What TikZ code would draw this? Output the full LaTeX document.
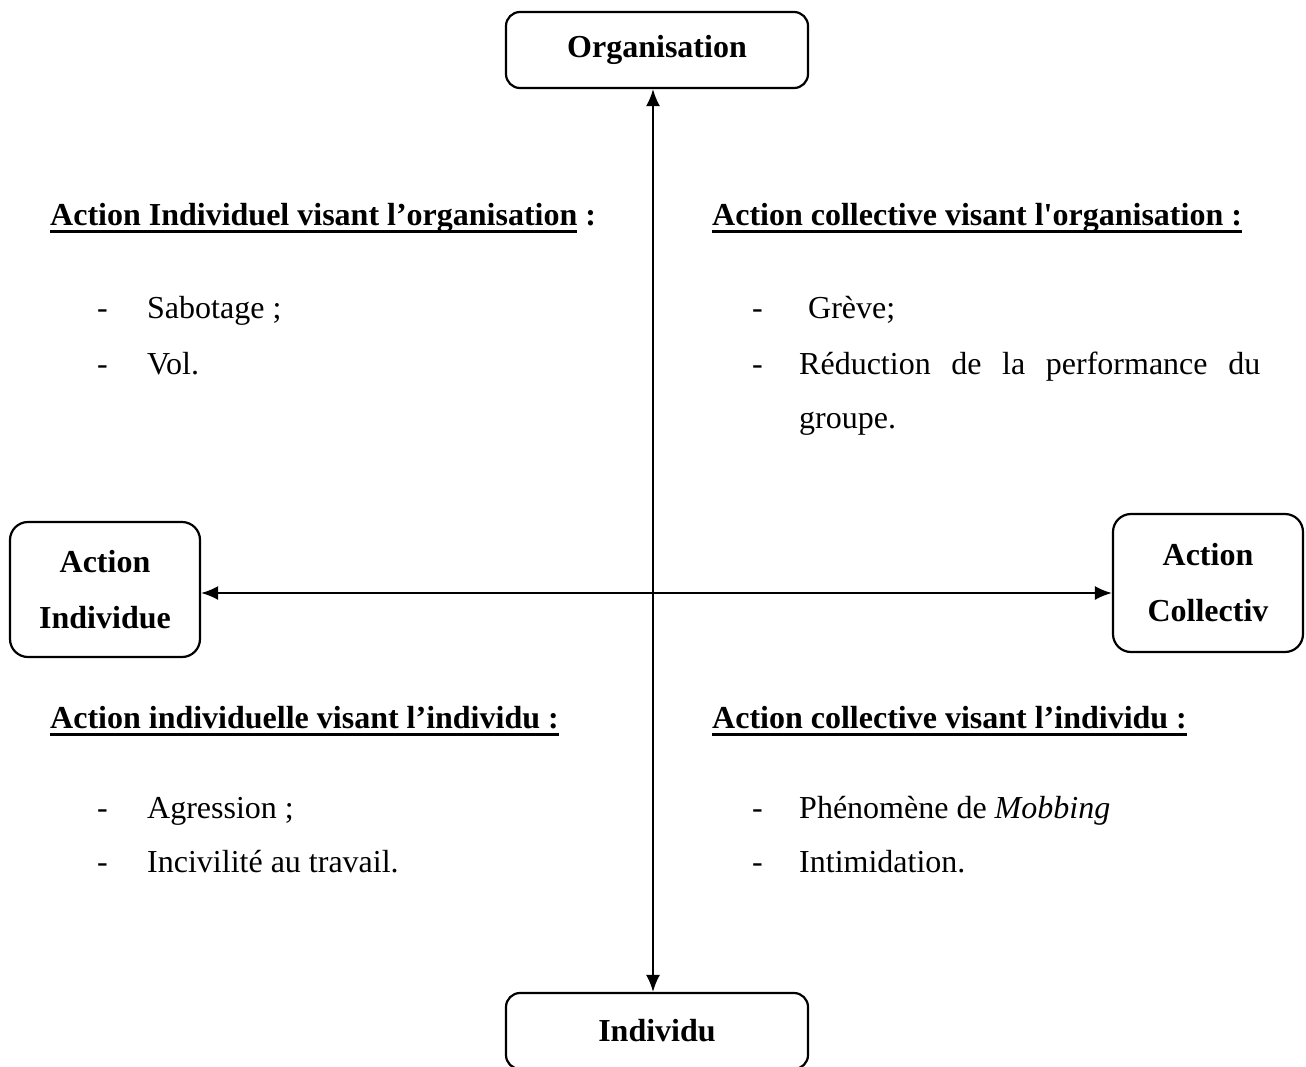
\documentclass[tikz,border=0pt]{standalone}
\usepackage{fontspec}
\setmainfont{Liberation Serif}
\usetikzlibrary{arrows.meta}
% thick underline under a piece of text
\newcommand\ulbar[1]{\setbox0\hbox{#1}\rlap{\rule[-8pt]{\wd0}{3.5pt}}\box0\relax}
\tikzset{
  box/.style={draw, line width=2.2pt, rounded corners=14pt, inner sep=0pt,
    font=\fontsize{32}{56}\selectfont\bfseries, align=center},
  smallbox/.style={box, rounded corners=18pt},
  head/.style={anchor=base west, inner sep=0pt, font=\fontsize{32}{38}\selectfont\bfseries},
  item/.style={anchor=base west, inner sep=0pt, font=\fontsize{32}{38}\selectfont},
  axis/.style={line width=2pt, {Latex[length=17pt,width=14pt]}-{Latex[length=17pt,width=14pt]}},
}
\begin{document}
\begin{tikzpicture}[x=1pt,y=-1pt]
\useasboundingbox (0,0) rectangle (1306,1066);

% the four poles
\node[box, minimum width=302pt, minimum height=76pt] (org) at (657,50) {Organisation};
\node[box, minimum width=302pt, minimum height=76pt] (ind) at (657,1031) {Individu};
\node[smallbox, minimum width=190pt, minimum height=135pt] (ai) at (105,589.5) {Action\\Individue};
\node[smallbox, minimum width=190pt, minimum height=138pt] (ac) at (1208,583) {Action\\Collectiv};

% crossing axes
\coordinate (o) at (653,593);
\draw[axis] (org.south -| o) -- (ind.north -| o);
\draw[axis] (ai.east |- o) -- (ac.west |- o);

% upper left quadrant
\node[head] (h1) at (50,225) {\ulbar{Action Individuel visant l’organisation} :};
\node[item] (d1) at (97,318) {-};
\node[item] (t1) at (147,318) {Sabotage ;};
\node[item] (d2) at (97,374) {-};
\node[item] (t2) at (147,374) {Vol.};

% upper right quadrant
\node[head] (h2) at (712,225) {\ulbar{Action collective visant l\textquotesingle organisation :}};
\node[item] (d3) at (752,318) {-};
\node[item] (t3) at (808,318) {Grève;};
\node[item] (d4) at (752,374) {-};
\node[item] (t4) at (799,374) {\hbox to 461pt{Réduction\hfill de\hfill la\hfill performance\hfill du}};
\node[item] (t5) at (799,428) {groupe.};

% lower left quadrant
\node[head] (h3) at (50,728) {\ulbar{Action individuelle visant l’individu :}};
\node[item] (d5) at (97,818) {-};
\node[item] (t6) at (147,818) {Agression ;};
\node[item] (d6) at (97,872) {-};
\node[item] (t7) at (147,872) {Incivilité au travail.};

% lower right quadrant
\node[head] (h4) at (712,728) {\ulbar{Action collective visant l’individu :}};
\node[item] (d7) at (752,818) {-};
\node[item] (t8) at (799,818) {Phénomène de \textit{Mobbing}};
\node[item] (d8) at (752,872) {-};
\node[item] (t9) at (799,872) {Intimidation.};
\end{tikzpicture}
\end{document}
